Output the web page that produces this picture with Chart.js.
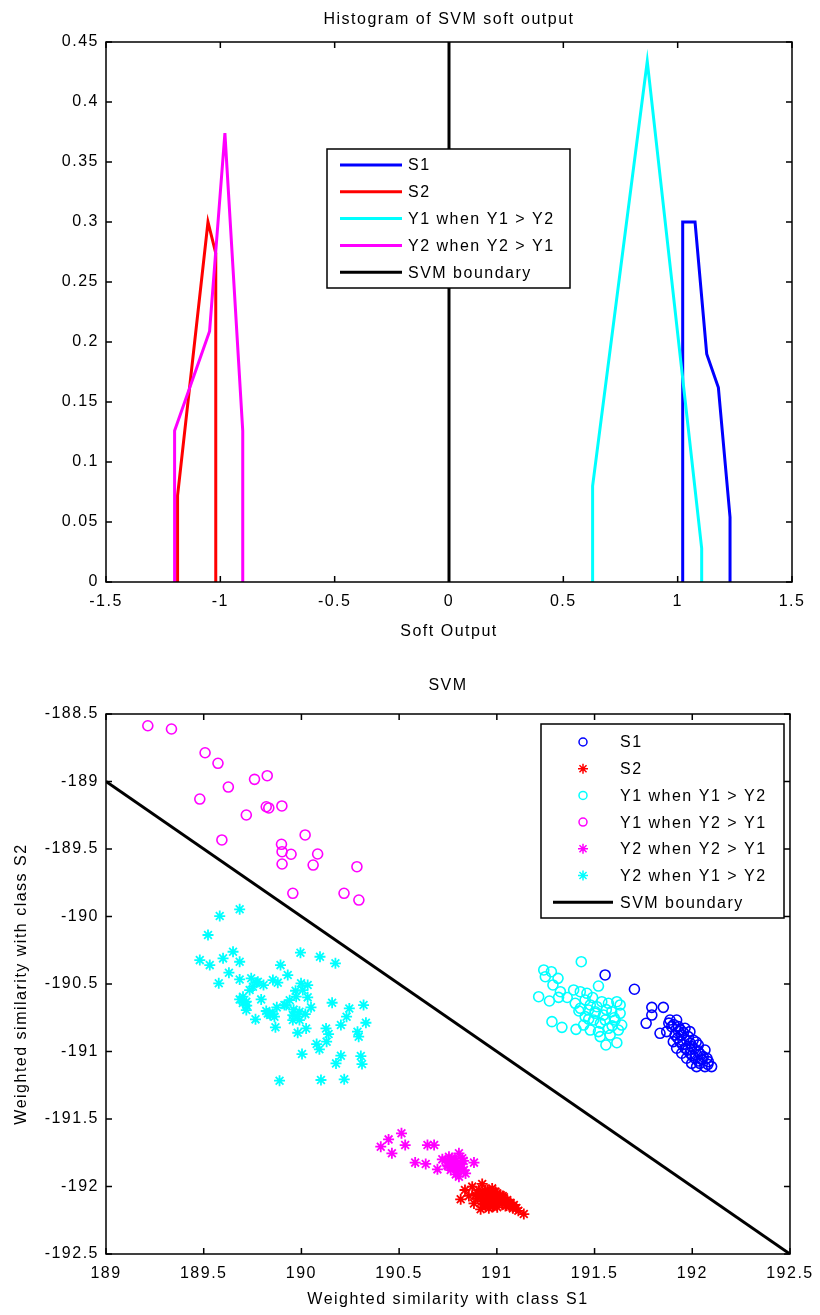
<!DOCTYPE html>
<html>
<head>
<meta charset="utf-8">
<script src="https://cdn.jsdelivr.net/npm/chart.js@4.4.0/dist/chart.umd.min.js"></script>
<style>
body { margin: 0; background: #fff; }
#wrap { position: relative; width: 820px; height: 1315px; }
canvas { position: absolute; left: 0; }
#histCanvas { top: 0; }
#svmCanvas { top: 650px; }
</style>
</head>
<body>
<div id="wrap">
  <canvas id="histCanvas" width="820" height="650"></canvas>
  <canvas id="svmCanvas" width="820" height="665"></canvas>
</div>
<script>
// ---- top: histogram of SVM soft output ----
var softTicks = [-1.5, -1, -0.5, 0, 0.5, 1, 1.5];
var freqTicks = [0, 0.05, 0.1, 0.15, 0.2, 0.25, 0.3, 0.35, 0.4, 0.45];

var s1Soft = [1.022, 1.022, 1.076, 1.127, 1.178, 1.229, 1.229];
var s1Freq = [0, 0.30, 0.30, 0.19, 0.162, 0.054, 0];
var s2Soft = [-1.187, -1.187, -1.054, -1.02, -1.02];
var s2Freq = [0, 0.072, 0.30, 0.274, 0];
var y1Soft = [0.628, 0.628, 0.867, 1.105, 1.105];
var y1Freq = [0, 0.08, 0.434, 0.028, 0];
var y2Soft = [-1.2, -1.2, -1.047, -0.98, -0.902, -0.902];
var y2Freq = [0, 0.126, 0.209, 0.374, 0.126, 0];
var boundSoft = [0, 0];
var boundFreq = [0, 0.45];

// ---- bottom: weighted similarity scatter ----
var sim1Ticks = [189, 189.5, 190, 190.5, 191, 191.5, 192, 192.5];
var sim2Ticks = [-192.5, -192, -191.5, -191, -190.5, -190, -189.5, -189, -188.5];

var s1Points = [
  [191.554,-190.433],[191.704,-190.539],[191.793,-190.673],[191.852,-190.673],[191.793,-190.730],
  [191.764,-190.791],[191.835,-190.865],[191.886,-190.767],[191.920,-190.767],[191.895,-190.816],
  [191.929,-190.816],[191.963,-190.828],[191.869,-190.853],[191.912,-190.878],[191.946,-190.878],
  [191.988,-190.853],[191.903,-190.927],[191.937,-190.927],[191.971,-190.915],[192.005,-190.915],
  [191.920,-190.976],[191.963,-190.976],[191.997,-190.964],[192.031,-190.952],[191.946,-191.013],
  [191.988,-191.013],[192.031,-191.001],[192.065,-190.989],[191.971,-191.050],[192.014,-191.050],
  [192.056,-191.038],[191.997,-191.088],[192.039,-191.088],[192.082,-191.075],[192.022,-191.112],
  [192.065,-191.112],[192.099,-191.112],
  [191.880,-190.790],[191.905,-190.800],[191.940,-190.840],[191.955,-190.860],[191.980,-190.890],
  [191.925,-190.900],[191.950,-190.950],[191.990,-190.940],[192.010,-190.980],[192.040,-191.020],
  [192.000,-191.030],[192.050,-191.060],[192.075,-191.050],[192.030,-191.070],[192.080,-191.095],
  [191.975,-190.990],[191.930,-190.850],[192.020,-190.930]
];
var s2Points = [
  [190.815,-192.095],[190.837,-192.026],[190.874,-192.001],[190.925,-191.981],[190.976,-192.014],
  [190.891,-192.063],[190.934,-192.051],[190.976,-192.063],[191.019,-192.063],[190.883,-192.125],
  [190.925,-192.112],[190.968,-192.112],[191.010,-192.112],[191.053,-192.100],[190.917,-192.169],
  [190.959,-192.162],[191.002,-192.154],[191.044,-192.144],[191.087,-192.137],[191.082,-192.162],
  [191.138,-192.204],[190.900,-192.088],[190.951,-192.080],[190.993,-192.088],[191.036,-192.080],
  [190.942,-192.144],[190.984,-192.137],[191.027,-192.125],[191.070,-192.120],[190.908,-192.026],
  [190.951,-192.026],[190.993,-192.038],[190.857,-192.070],
  [190.900,-192.050],[190.920,-192.070],[190.950,-192.100],[190.970,-192.090],[190.990,-192.070],
  [191.000,-192.100],[191.020,-192.090],[191.040,-192.110],[191.060,-192.120],[191.050,-192.140],
  [191.080,-192.150],[191.100,-192.160],[191.110,-192.180],[190.930,-192.130],[190.960,-192.140],
  [190.980,-192.150],[190.940,-192.030],[190.960,-192.040],[191.000,-192.050],[191.030,-192.070]
];
var y1HighPoints = [
  [191.432,-190.335],[191.240,-190.396],[191.279,-190.409],[191.313,-190.458],[191.248,-190.446],
  [191.287,-190.507],[191.214,-190.594],[191.269,-190.626],[191.325,-190.557],[191.316,-190.599],
  [191.393,-190.544],[191.427,-190.557],[191.461,-190.569],[191.520,-190.515],[191.401,-190.643],
  [191.427,-190.680],[191.452,-190.618],[191.478,-190.655],[191.512,-190.668],[191.537,-190.631],
  [191.571,-190.643],[191.614,-190.631],[191.631,-190.655],[191.503,-190.717],[191.546,-190.730],
  [191.588,-190.705],[191.631,-190.717],[191.452,-190.742],[191.495,-190.767],[191.554,-190.767],
  [191.605,-190.767],[191.639,-190.804],[191.282,-190.779],[191.333,-190.821],[191.405,-190.836],
  [191.444,-190.804],[191.478,-190.841],[191.520,-190.853],[191.571,-190.828],[191.622,-190.841],
  [191.529,-190.890],[191.558,-190.952],[191.614,-190.935],[191.580,-190.878],[191.503,-190.705],
  [191.469,-190.693],
  [191.360,-190.600],[191.490,-190.600],[191.560,-190.690],[191.600,-190.750],[191.420,-190.700],
  [191.530,-190.790],[191.590,-190.810],[191.470,-190.760]
];
var y1LowPoints = [
  [189.214,-188.587],[189.335,-188.611],[189.507,-188.787],[189.573,-188.865],[189.760,-188.984],
  [189.825,-188.957],[189.626,-189.041],[189.480,-189.130],[189.718,-189.248],[189.820,-189.187],
  [189.833,-189.196],[189.900,-189.181],[189.593,-189.433],[190.019,-189.396],[189.898,-189.465],
  [189.901,-189.520],[189.947,-189.539],[190.083,-189.537],[189.901,-189.611],[190.060,-189.619],
  [190.284,-189.631],[189.956,-189.828],[190.218,-189.828],[190.294,-189.878]
];
var y2HighPoints = [
  [190.406,-191.705],[190.446,-191.651],[190.463,-191.754],[190.512,-191.606],[190.531,-191.693],
  [190.645,-191.693],[190.679,-191.693],[190.582,-191.823],[190.636,-191.833],[190.696,-191.873],
  [190.721,-191.799],[190.755,-191.779],[190.806,-191.754],[190.883,-191.823],[190.747,-191.841],
  [190.772,-191.828],[190.789,-191.853],[190.815,-191.828],[190.764,-191.878],[190.798,-191.890],
  [190.832,-191.878],[190.806,-191.927],[190.840,-191.903],[190.781,-191.804],[190.823,-191.791],
  [190.738,-191.804],
  [190.760,-191.820],[190.790,-191.810],[190.810,-191.840],[190.780,-191.860],[190.800,-191.870],
  [190.820,-191.860],[190.770,-191.790],[190.830,-191.810],[190.790,-191.910],[190.750,-191.850]
];
var y2LowPoints = [
  [189.684,-189.947],[189.582,-189.997],[189.522,-190.137],[189.480,-190.323],[189.531,-190.360],
  [189.599,-190.310],[189.650,-190.261],[189.684,-190.335],[189.629,-190.416],[189.577,-190.495],
  [189.684,-190.466],[189.743,-190.458],[189.752,-190.520],[189.777,-190.483],[189.806,-190.508],
  [189.854,-190.471],[189.879,-190.490],[189.893,-190.360],[189.930,-190.434],[189.995,-190.268],
  [190.095,-190.298],[190.174,-190.347],[189.998,-190.495],[190.032,-190.508],[190.007,-190.545],
  [189.973,-190.594],[190.032,-190.599],[189.794,-190.614],[189.701,-190.594],[189.718,-190.631],
  [189.684,-190.614],[189.718,-190.693],[189.765,-190.762],[189.837,-190.718],[189.854,-190.723],
  [189.874,-190.673],[189.913,-190.656],[189.862,-190.742],[189.867,-190.821],[189.956,-190.730],
  [189.990,-190.705],[190.020,-190.723],[190.049,-190.673],[189.990,-190.767],[189.956,-190.767],
  [189.981,-190.861],[190.024,-190.829],[190.157,-190.639],[190.245,-190.681],[190.231,-190.742],
  [190.202,-190.804],[190.318,-190.656],[190.330,-190.787],[190.287,-190.853],[190.293,-190.890],
  [190.126,-190.829],[190.139,-190.871],[190.129,-190.927],[190.078,-190.945],[190.092,-190.984],
  [190.003,-191.019],[190.202,-191.031],[190.177,-191.088],[190.304,-191.034],[190.310,-191.093],
  [189.888,-191.216],[190.100,-191.211],[190.219,-191.206],[189.922,-190.656],[189.828,-190.718],
  [189.735,-190.545],[189.769,-190.490],
  [189.820,-190.700],[189.840,-190.730],[189.960,-190.690],[189.980,-190.740],[189.700,-190.640],
  [189.720,-190.660],[189.940,-190.620],[189.970,-190.550]
];
var boundSim1 = [189, 192.5];
var boundSim2 = [-189, -192.5];

var FONT = '"Liberation Sans", Arial, Helvetica, sans-serif';

function pairs(xs, ys) {
  var out = [];
  for (var i = 0; i < xs.length; i++) out.push({x: xs[i], y: ys[i]});
  return out;
}
function points(list) {
  return list.map(function(p) { return {x: p[0], y: p[1]}; });
}
function fmt(v) {
  return String(Number(v.toFixed(2)));
}
function setTicks(list) {
  return function(scale) { scale.ticks = list.map(function(v) { return {value: v}; }); };
}

function drawMarker(ctx, style, x, y, r) {
  ctx.beginPath();
  if (style === 'circle') {
    ctx.arc(x, y, r, 0, Math.PI * 2);
  } else {
    for (var k = 0; k < 4; k++) {
      var ang = k * Math.PI / 4;
      ctx.moveTo(x - Math.cos(ang) * r, y - Math.sin(ang) * r);
      ctx.lineTo(x + Math.cos(ang) * r, y + Math.sin(ang) * r);
    }
  }
  ctx.stroke();
}

// matlab look: boxed axes, inward ticks, titles and a legend box inside the plot
function matlabFrame(setup) {
  return {
    id: 'matlabFrame',
    beforeDraw: function(chart) {
      chart.ctx.letterSpacing = '1.5px';
    },
    afterDraw: function(chart) {
      var ctx = chart.ctx, a = chart.chartArea;
      var sx = chart.scales.x, sy = chart.scales.y;
      ctx.save();
      ctx.strokeStyle = '#000';
      ctx.lineWidth = 1.5;
      ctx.strokeRect(a.left, a.top, a.right - a.left, a.bottom - a.top);
      ctx.beginPath();
      sx.ticks.forEach(function(t) {
        var px = sx.getPixelForValue(t.value);
        ctx.moveTo(px, a.bottom); ctx.lineTo(px, a.bottom - 6);
        ctx.moveTo(px, a.top); ctx.lineTo(px, a.top + 6);
      });
      sy.ticks.forEach(function(t) {
        var py = sy.getPixelForValue(t.value);
        ctx.moveTo(a.left, py); ctx.lineTo(a.left + 6, py);
        ctx.moveTo(a.right, py); ctx.lineTo(a.right - 6, py);
      });
      ctx.stroke();

      ctx.fillStyle = '#000';
      ctx.font = '16px ' + FONT;
      ctx.textAlign = 'center';
      ctx.textBaseline = 'middle';
      var cx = (a.left + a.right) / 2;
      ctx.fillText(setup.title, cx, setup.titleY);
      ctx.fillText(setup.xTitle, cx, setup.xTitleY);
      if (setup.yTitle) {
        ctx.save();
        ctx.translate(setup.yTitleX, (a.top + a.bottom) / 2);
        ctx.rotate(-Math.PI / 2);
        ctx.fillText(setup.yTitle, 0, 0);
        ctx.restore();
      }

      // legend
      var lg = setup.legend;
      ctx.fillStyle = '#fff';
      ctx.fillRect(lg.x, lg.y, lg.w, lg.h);
      ctx.strokeStyle = '#000';
      ctx.lineWidth = 1.5;
      ctx.strokeRect(lg.x, lg.y, lg.w, lg.h);
      ctx.textAlign = 'left';
      chart.data.datasets.forEach(function(ds, i) {
        var ry = lg.firstRow + i * lg.rowGap;
        if (ds.showLine) {
          ctx.strokeStyle = ds.borderColor;
          ctx.lineWidth = 3;
          ctx.beginPath();
          ctx.moveTo(lg.lineFrom, ry);
          ctx.lineTo(lg.lineTo, ry);
          ctx.stroke();
        } else {
          ctx.strokeStyle = ds.borderColor;
          ctx.lineWidth = 1.5;
          drawMarker(ctx, ds.pointStyle, lg.marker, ry, ds.pointStyle === 'circle' ? 4 : 5);
        }
        ctx.fillStyle = '#000';
        ctx.fillText(ds.label, lg.text, ry + 1);
      });
      ctx.restore();
    }
  };
}

function axisOpts(min, max, ticks, pad, fit) {
  return {
    type: 'linear',
    min: min,
    max: max,
    afterBuildTicks: setTicks(ticks),
    afterFit: fit,
    grid: { display: false, drawTicks: false },
    border: { display: false },
    ticks: {
      color: '#000',
      font: { family: FONT, size: 16 },
      padding: pad,
      autoSkip: false,
      maxRotation: 0,
      callback: function(v) { return fmt(v); }
    }
  };
}

new Chart(document.getElementById('histCanvas'), {
  type: 'scatter',
  data: {
    datasets: [
      { label: 'S1', data: pairs(s1Soft, s1Freq), borderColor: '#0000ff', showLine: true, order: 4 },
      { label: 'S2', data: pairs(s2Soft, s2Freq), borderColor: '#ff0000', showLine: true, order: 3 },
      { label: 'Y1 when Y1 > Y2', data: pairs(y1Soft, y1Freq), borderColor: '#00ffff', showLine: true, order: 2 },
      { label: 'Y2 when Y2 > Y1', data: pairs(y2Soft, y2Freq), borderColor: '#ff00ff', showLine: true, order: 1 },
      { label: 'SVM boundary', data: pairs(boundSoft, boundFreq), borderColor: '#000000', showLine: true, order: 0 }
    ]
  },
  options: {
    responsive: false,
    animation: false,
    layout: { padding: { top: 42, right: 28, left: 0, bottom: 0 } },
    elements: { point: { radius: 0, hoverRadius: 0 }, line: { borderWidth: 3, tension: 0 } },
    plugins: { legend: { display: false }, title: { display: false }, tooltip: { enabled: false } },
    scales: {
      x: axisOpts(-1.5, 1.5, softTicks, 10, function(s) { s.height = 68; }),
      y: axisOpts(0, 0.45, freqTicks, 7, function(s) { s.width = 106; })
    }
  },
  plugins: [matlabFrame({
    title: 'Histogram of SVM soft output', titleY: 20,
    xTitle: 'Soft Output', xTitleY: 632,
    legend: { x: 327, y: 149, w: 243, h: 139, firstRow: 165, rowGap: 26.8, lineFrom: 340, lineTo: 402, text: 408 }
  })]
});

function scatterSet(label, list, color, style, order) {
  return {
    label: label,
    data: points(list),
    borderColor: color,
    backgroundColor: 'rgba(0,0,0,0)',
    pointStyle: style,
    pointRadius: style === 'circle' ? 5 : 5.5,
    pointBorderWidth: style === 'circle' ? 1.6 : 1.8,
    showLine: false,
    order: order
  };
}

new Chart(document.getElementById('svmCanvas'), {
  type: 'scatter',
  data: {
    datasets: [
      scatterSet('S1', s1Points, '#0000ff', 'circle', 6),
      scatterSet('S2', s2Points, '#ff0000', 'star', 5),
      scatterSet('Y1 when Y1 > Y2', y1HighPoints, '#00ffff', 'circle', 4),
      scatterSet('Y1 when Y2 > Y1', y1LowPoints, '#ff00ff', 'circle', 3),
      scatterSet('Y2 when Y2 > Y1', y2HighPoints, '#ff00ff', 'star', 2),
      scatterSet('Y2 when Y1 > Y2', y2LowPoints, '#00ffff', 'star', 1),
      { label: 'SVM boundary', data: pairs(boundSim1, boundSim2), borderColor: '#000000', showLine: true,
        pointRadius: 0, borderWidth: 3, order: 0 }
    ]
  },
  options: {
    responsive: false,
    animation: false,
    layout: { padding: { top: 64, right: 28, left: 0, bottom: 0 } },
    elements: { point: { hoverRadius: 0 }, line: { borderWidth: 3, tension: 0 } },
    plugins: { legend: { display: false }, title: { display: false }, tooltip: { enabled: false } },
    scales: {
      x: axisOpts(189, 192.5, sim1Ticks, 10, function(s) { s.height = 61; }),
      y: axisOpts(-192.5, -188.5, sim2Ticks, 7, function(s) { s.width = 106; })
    }
  },
  plugins: [matlabFrame({
    title: 'SVM', titleY: 36,
    xTitle: 'Weighted similarity with class S1', xTitleY: 650,
    yTitle: 'Weighted similarity with class S2', yTitleX: 22,
    legend: { x: 541, y: 74, w: 243, h: 194, firstRow: 92, rowGap: 26.7, marker: 583, lineFrom: 553, lineTo: 613, text: 620 }
  })]
});
</script>
</body>
</html>
